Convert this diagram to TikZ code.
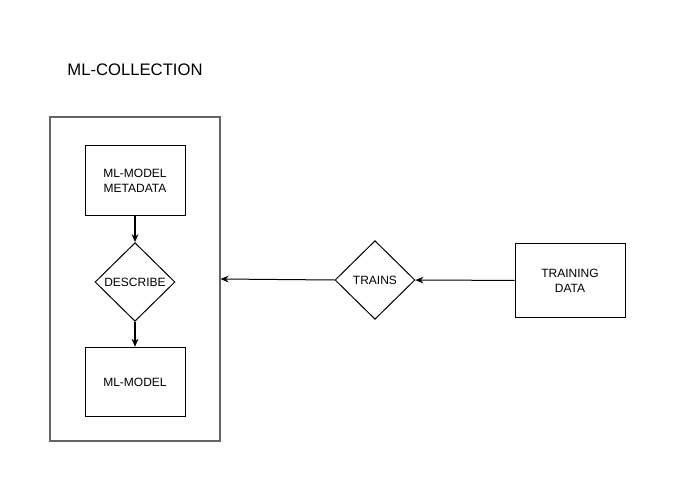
\documentclass[tikz,border=0pt]{standalone}
\usepackage{fontspec}
\setmainfont{Liberation Sans}
\usepackage{xcolor}
\usetikzlibrary{arrows.meta,positioning,shapes.geometric}
\definecolor{mlframe}{RGB}{100,100,100}

\begin{document}
\begin{tikzpicture}[x=0.75pt,y=-0.75pt,
  every node/.style={font=\fontsize{9}{11}\selectfont, align=center},
  mlbox/.style={draw=black, line width=0.75pt, minimum width=75pt, minimum height=52pt, inner sep=0pt},
  mldiamond/.style={draw=black, line width=0.75pt, diamond, minimum width=60pt, minimum height=59pt, inner sep=0pt},
  mlarrow/.style={line width=0.75pt, -{Stealth[length=6pt,width=5pt]}}]
\useasboundingbox (0,0) rectangle (676,493);

% collection frame
\node[draw=mlframe, line width=0.85pt, minimum width=127.5pt, minimum height=243pt] (collection) at (135,279) {};
\node[font=\fontsize{12.5}{14}\selectfont] (title) at (135,70) {ML-COLLECTION};

% inside the collection
\node[mlbox] (metadata) at (135,180.5) {ML-MODEL\\METADATA};
\node[mldiamond] (describe) at (135,282) {DESCRIBE};
\node[mlbox] (model) at (135,382) {ML-MODEL};

% outside
\node[mldiamond] (trains) at (375,280) {TRAINS};
\node[mlbox, minimum width=82.5pt, minimum height=56pt] (training) at (570,280.5) {TRAINING\\DATA};

\draw[mlarrow, line width=1.2pt] (metadata) -- (describe);
\draw[mlarrow, line width=1.2pt] (describe) -- (model);
\draw[mlarrow] (training) -- (trains);
\draw[mlarrow] (trains.west) -- (collection.east);
\end{tikzpicture}
\end{document}
